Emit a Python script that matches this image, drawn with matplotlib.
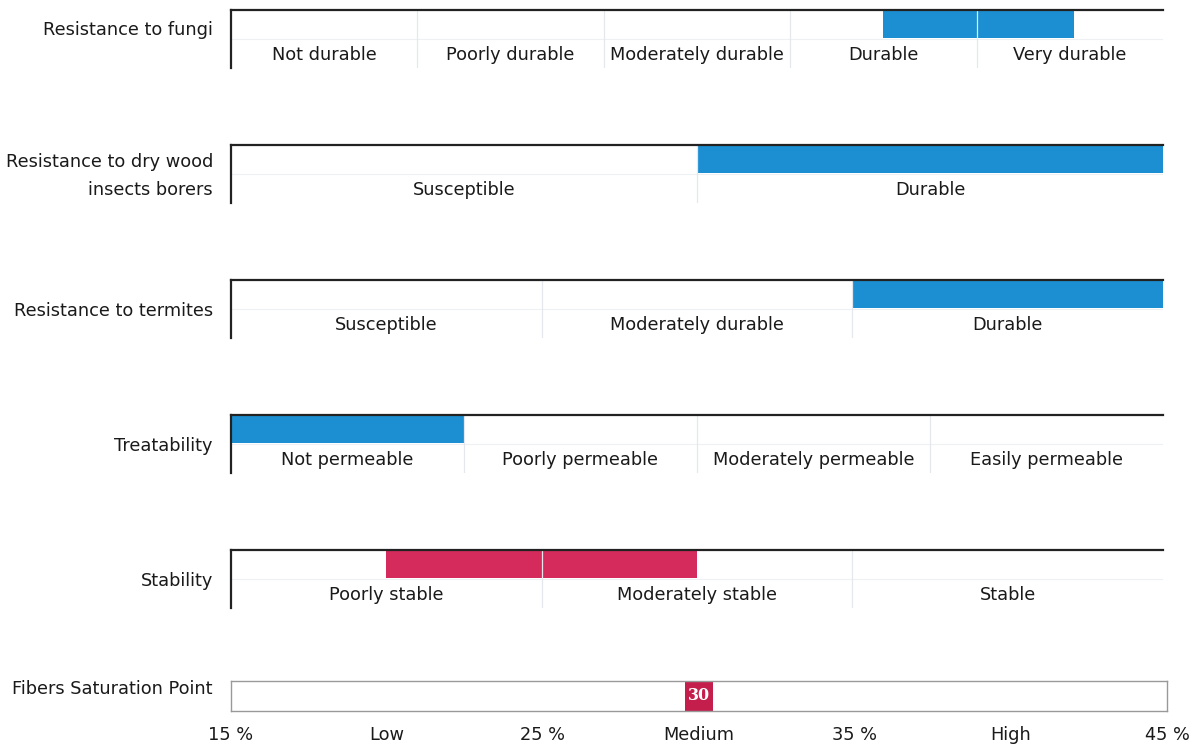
import matplotlib.pyplot as plt
import numpy as np

# rows of the durability chart
row_labels = ["Resistance to fungi",
              "Resistance to dry wood\ninsects borers",
              "Resistance to termites",
              "Treatability",
              "Stability"]
row_cats = [["Not durable", "Poorly durable", "Moderately durable", "Durable", "Very durable"],
            ["Susceptible", "Durable"],
            ["Susceptible", "Moderately durable", "Durable"],
            ["Not permeable", "Poorly permeable", "Moderately permeable", "Easily permeable"],
            ["Poorly stable", "Moderately stable", "Stable"]]
bar_start = [3.5, 1.0, 2.0, 0.0, 0.5]
bar_end = [4.52, 2.0, 3.0, 1.0, 1.5]
bar_colors = ["#1b8fd2", "#1b8fd2", "#1b8fd2", "#1b8fd2", "#d42a5c"]

# fibers saturation point
fsp_label = "Fibers Saturation Point"
fsp_value = 30
fsp_ticks = [15, 20, 25, 30, 35, 40, 45]
fsp_ticklabels = ["15 %", "Low", "25 %", "Medium", "35 %", "High", "45 %"]

W, H = 1189, 744
fig = plt.figure(figsize=(W / 100, H / 100), dpi=100)
fs = 12.8
txt = "#1a1a1a"

def px_axes(x0, y0, w, h):
    return fig.add_axes([x0 / W, 1 - (y0 + h) / H, w / W, h / H])

row_tops = [10, 145, 280, 415, 550]
label_off = [20, 31, 31, 31, 31]
for i, top in enumerate(row_tops):
    ax = px_axes(231, top, 932, 58)
    n = len(row_cats[i])
    ax.set_xlim(0, n)
    ax.set_ylim(58, 0)
    ax.barh(14, bar_end[i] - bar_start[i], left=bar_start[i], height=28,
            color=bar_colors[i], zorder=1)
    for k in range(1, n):
        ax.axvline(k, color="#e4e8ec", lw=0.9, zorder=2)
    ax.axhline(29, color="#eef1f4", lw=0.8, zorder=0)
    for k, c in enumerate(row_cats[i]):
        ax.text(k + 0.5, 45, c, ha="center", va="center", fontsize=fs, color=txt)
    for s in ["right", "bottom"]:
        ax.spines[s].set_visible(False)
    for s in ["top", "left"]:
        ax.spines[s].set_linewidth(1.6)
        ax.spines[s].set_color("#222222")
    ax.set_xticks([])
    ax.set_yticks([])
    ax.text(-18 / 932 * n, label_off[i], row_labels[i], ha="right", va="center",
            fontsize=fs, color=txt, linespacing=1.67)

# bottom scale
ax = px_axes(231, 681, 936, 30)
ax.set_xlim(15, 45)
ax.set_ylim(0, 1)
ax.bar(fsp_value, 1, width=0.9, bottom=0, color="#c41f4c")
ax.text(fsp_value, 0.5, str(fsp_value), ha="center", va="center", color="white",
        fontsize=11.5, family="DejaVu Serif", fontweight="bold")
for s in ax.spines.values():
    s.set_color("#999999")
    s.set_linewidth(1.0)
ax.set_xticks(fsp_ticks)
ax.set_xticklabels(fsp_ticklabels, fontsize=fs, color=txt)
ax.tick_params(axis="x", length=0, pad=11)
ax.set_yticks([])
ax.text(-18 / 936 * 30 + 15, 0.75, fsp_label, ha="right", va="center",
        fontsize=fs, color=txt)

fig.savefig("out.png", dpi=100)
